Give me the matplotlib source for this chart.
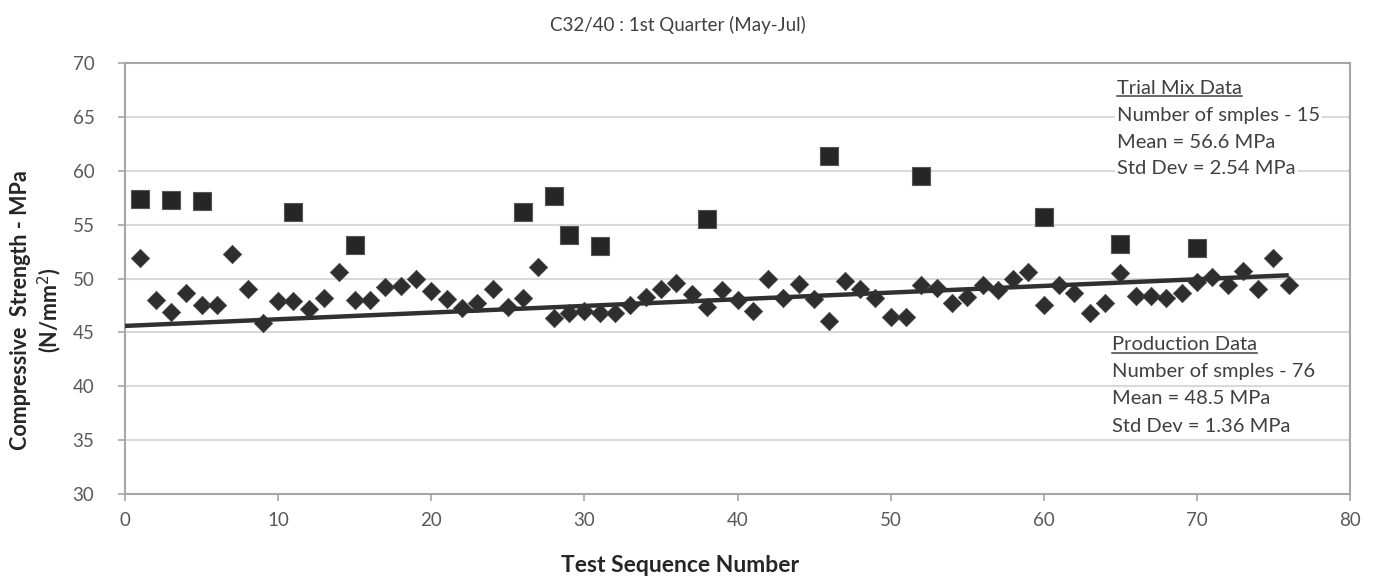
import matplotlib
matplotlib.use("Agg")
import matplotlib.pyplot as plt
from matplotlib.lines import Line2D

plt.rcParams['font.family'] = ['Lato', 'DejaVu Sans']

# Trial mix data (squares)
trial_x = [1, 3, 5, 11, 15, 26, 28, 29, 31, 38, 46, 52, 60, 65, 70]
trial_y = [57.4, 57.3, 57.2, 56.2, 53.1, 56.2, 57.7, 54.0, 53.0, 55.5, 61.4, 59.5, 55.7, 53.2, 52.8]

# Production data (diamonds), test sequence 1..76
prod_x = list(range(1, 77))
prod_y = [51.9, 48.0, 46.9, 48.7, 47.5, 47.5, 52.3, 49.0, 45.9, 47.9,
          47.9, 47.2, 48.2, 50.6, 48.0, 48.0, 49.2, 49.3, 50.0, 48.8,
          48.1, 47.3, 47.7, 49.0, 47.4, 48.2, 51.1, 46.3, 46.8, 47.0,
          46.8, 46.8, 47.5, 48.3, 49.0, 49.6, 48.6, 47.4, 48.9, 48.0,
          47.0, 50.0, 48.2, 49.5, 48.1, 46.1, 49.8, 49.0, 48.2, 46.4,
          46.4, 49.4, 49.1, 47.7, 48.3, 49.4, 48.9, 50.0, 50.6, 47.5,
          49.4, 48.7, 46.8, 47.7, 50.5, 48.4, 48.4, 48.2, 48.7, 49.7,
          50.1, 49.4, 50.7, 49.0, 51.9, 49.4]

# Trend line of production data (endpoints)
trend_x = [0, 76]
trend_y = [45.6, 50.3]

x_ticks = [0, 10, 20, 30, 40, 50, 60, 70, 80]
y_ticks = [30, 35, 40, 45, 50, 55, 60, 65, 70]

title = "C32/40 : 1st Quarter (May-Jul)"
xlabel = "Test Sequence Number"
ylabel = "Compressive  Strength - MPa\n(N/mm$^{2}$)"

trial_lines = ["Trial Mix Data", "Number of smples - 15", "Mean = 56.6 MPa", "Std Dev = 2.54 MPa"]
prod_lines = ["Production Data", "Number of smples - 76", "Mean = 48.5 MPa", "Std Dev = 1.36 MPa"]

W, H = 1375, 578
fig = plt.figure(figsize=(W / 100, H / 100), dpi=100)
ax = fig.add_axes([125 / W, 1 - 494 / H, (1350 - 125) / W, (494 - 63) / H])

grid_c = '#d9d9d9'
for yv in y_ticks[1:-1]:
    ax.axhline(yv, color=grid_c, lw=1.5, zorder=0)

ax.scatter(prod_x, prod_y, marker='D', s=88, color='#2e2e2e', edgecolors='#444444', linewidths=0.5, zorder=3)
ax.scatter(trial_x, trial_y, marker='s', s=150, color='#262626', edgecolors='#555555', linewidths=0.8, zorder=3)
ax.plot(trend_x, trend_y, color='#303030', lw=3.2, zorder=4, solid_capstyle='butt')

ax.set_xlim(0, 80)
ax.set_ylim(30, 70)
ax.set_xticks(x_ticks)
ax.set_yticks(y_ticks)
for s in ax.spines.values():
    s.set_color('#a6a6a6')
    s.set_linewidth(1.5)
ax.tick_params(axis='both', colors='#a6a6a6', labelcolor='#595959', labelsize=13.5, length=5, width=1.2, direction='out')
ax.tick_params(axis='y', pad=17)
ax.tick_params(axis='x', pad=8)

fig.text(678 / W, 1 - 25 / H, title, ha='center', va='center', fontsize=13.5, color='#404040')
fig.text(680 / W, 1 - 566 / H, xlabel, ha='center', va='center', fontsize=16.5, fontweight='bold', color='#262626')
fig.text(37 / W, 1 - 310 / H, ylabel, ha='center', va='center', rotation=90, fontsize=15.5,
         fontweight='bold', color='#262626', linespacing=1.2)

def block(lines, x_px, y0_px, dy_px):
    texts = []
    for i, s in enumerate(lines):
        t = fig.text(x_px / W, 1 - (y0_px + i * dy_px) / H, s, ha='left', va='center', fontsize=14.5,
                     color='#404040', zorder=5,
                     bbox=dict(facecolor='white', edgecolor='none', pad=1.5))
        texts.append(t)
    fig.canvas.draw()
    r = fig.canvas.get_renderer()
    bb = texts[0].get_window_extent(renderer=r)
    yline = (bb.y0 + 1) / H
    fig.add_artist(Line2D([bb.x0 / W, bb.x1 / W], [yline, yline], color='#404040', lw=1.1, zorder=6))

block(trial_lines, 1117, 88, 27)
block(prod_lines, 1112, 345, 27)

fig.savefig("out.png", dpi=100)
